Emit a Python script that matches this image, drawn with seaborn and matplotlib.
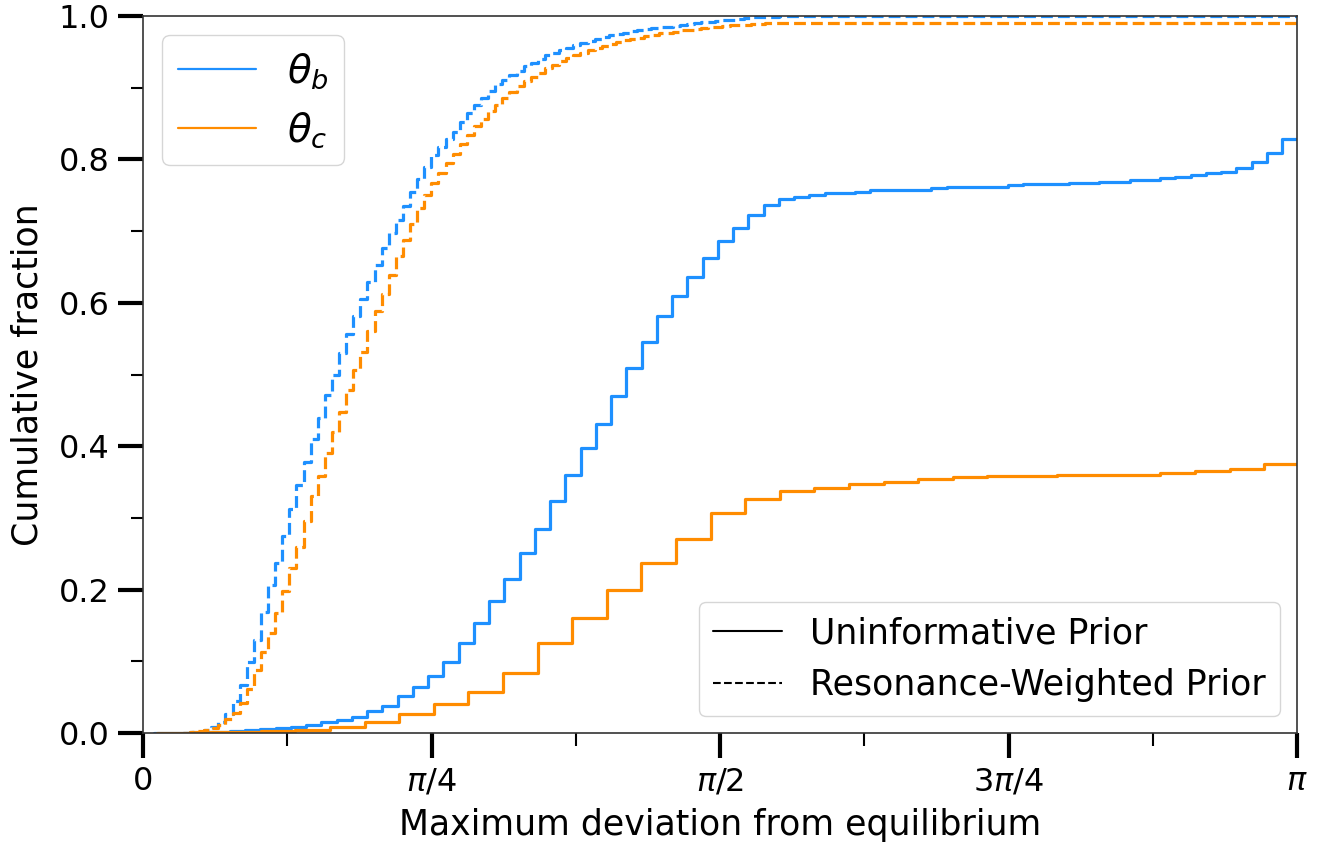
import matplotlib
matplotlib.use("Agg")
import matplotlib.pyplot as plt
import numpy as np
import seaborn as sns
from matplotlib.lines import Line2D
from matplotlib.ticker import FixedLocator, MultipleLocator, FormatStrFormatter

# cumulative fraction read per histogram bin (step curves)
# uninformative prior, theta_b: bins start 0.0286 rad, width 0.04152 rad
uninf_b_start, uninf_b_width = 0.0286, 0.04152
uninf_b = [0.0, 0.0, 0.0005, 0.001, 0.002, 0.003, 0.004, 0.005, 0.0065, 0.009,
           0.011, 0.016, 0.018, 0.022, 0.030, 0.038, 0.051, 0.064, 0.079, 0.099,
           0.125, 0.154, 0.184, 0.215, 0.251, 0.285, 0.323, 0.360, 0.397, 0.431,
           0.470, 0.509, 0.545, 0.582, 0.610, 0.636, 0.662, 0.686, 0.705, 0.723,
           0.737, 0.745, 0.748, 0.751, 0.753, 0.753, 0.755, 0.757, 0.757, 0.758,
           0.758, 0.7595, 0.761, 0.761, 0.762, 0.762, 0.764, 0.766, 0.766, 0.766,
           0.767, 0.767, 0.769, 0.769, 0.771, 0.771, 0.774, 0.775, 0.778, 0.781,
           0.783, 0.788, 0.797, 0.809, 0.828]

# uninformative prior, theta_c: bins start 0.0381 rad, width 0.0942 rad
uninf_c_start, uninf_c_width = 0.0381, 0.0942
uninf_c = [0.0, 0.001, 0.002, 0.003, 0.004, 0.009, 0.016, 0.027, 0.040, 0.057,
           0.083, 0.125, 0.160, 0.200, 0.237, 0.270, 0.307, 0.327, 0.337, 0.342,
           0.347, 0.350, 0.354, 0.357, 0.359, 0.359, 0.3605, 0.3605, 0.3605, 0.3626,
           0.365, 0.3686, 0.3745]

# resonance-weighted prior: bins start 0.1083 rad, width 0.01933 rad,
# last bin runs on to pi (curve is flat there)
res_start, res_width = 0.1083, 0.01933
res_b = [0.0005, 0.001, 0.002, 0.004, 0.009, 0.016, 0.027, 0.044, 0.067, 0.099,
         0.130, 0.169, 0.206, 0.237, 0.275, 0.313, 0.346, 0.378, 0.410, 0.440,
         0.471, 0.500, 0.530, 0.556, 0.581, 0.605, 0.629, 0.653, 0.677, 0.697,
         0.715, 0.735, 0.755, 0.772, 0.790, 0.806, 0.817, 0.828, 0.838, 0.852,
         0.865, 0.876, 0.886, 0.896, 0.905, 0.911, 0.918, 0.924, 0.930, 0.935,
         0.940, 0.945, 0.949, 0.953, 0.956, 0.959, 0.962, 0.965, 0.968, 0.971,
         0.973, 0.975, 0.977, 0.979, 0.980, 0.982, 0.983, 0.984, 0.985, 0.986,
         0.987, 0.989, 0.990, 0.991, 0.992, 0.993, 0.994, 0.995, 0.996, 0.997,
         0.998, 0.998, 0.999, 0.999, 1.0]
res_c = [0.0005, 0.001, 0.003, 0.004, 0.007, 0.011, 0.020, 0.028, 0.042, 0.062,
         0.088, 0.113, 0.139, 0.167, 0.198, 0.230, 0.260, 0.295, 0.330, 0.358,
         0.390, 0.420, 0.448, 0.478, 0.506, 0.532, 0.560, 0.588, 0.612, 0.639,
         0.665, 0.688, 0.710, 0.732, 0.750, 0.767, 0.781, 0.795, 0.808, 0.822,
         0.834, 0.846, 0.857, 0.867, 0.876, 0.886, 0.894, 0.902, 0.909, 0.915,
         0.921, 0.927, 0.932, 0.937, 0.941, 0.945, 0.949, 0.952, 0.955, 0.958,
         0.961, 0.964, 0.966, 0.968, 0.970, 0.972, 0.974, 0.976, 0.977, 0.978,
         0.980, 0.981, 0.982, 0.983, 0.984, 0.985, 0.986, 0.987, 0.988, 0.988,
         0.989, 0.989, 0.990]

xtick_vals = [0, np.pi / 4, np.pi / 2, 3 * np.pi / 4, np.pi]
xtick_labels = ['0', r'$\pi/4$', r'$\pi/2$', r'$3\pi/4$', r'$\pi$']

c_b = 'dodgerblue'
c_c = 'darkorange'


def uniform_edges(start, width, n):
    return start + width * np.arange(n + 1)


def open_edges(start, width, n):
    # last bin stretched to pi
    return np.append(start + width * np.arange(n), np.pi)


def step_cdf(ax, cum, edges, color, ls):
    # step histogram outline: value of bin k held from edge k to edge k+1
    y = np.append(cum, cum[-1])
    sns.lineplot(x=edges, y=y, drawstyle='steps-post', estimator=None, sort=False,
                 color=color, linestyle=ls, linewidth=2.3, ax=ax)


sns.set_theme(style='ticks')
plt.rcParams['font.family'] = ['DejaVu Sans']
plt.rcParams['text.color'] = 'black'
plt.rcParams['axes.labelcolor'] = 'black'
plt.rcParams['xtick.color'] = 'black'
plt.rcParams['ytick.color'] = 'black'

fig, ax = plt.subplots(figsize=(13.22, 8.43), dpi=100)
fig.subplots_adjust(left=0.1082, right=0.9811, bottom=0.1305, top=0.981)

step_cdf(ax, uninf_b, uniform_edges(uninf_b_start, uninf_b_width, len(uninf_b)), c_b, '-')
step_cdf(ax, uninf_c, uniform_edges(uninf_c_start, uninf_c_width, len(uninf_c)), c_c, '-')
step_cdf(ax, res_b, open_edges(res_start, res_width, len(res_b)), c_b, '--')
step_cdf(ax, res_c, open_edges(res_start, res_width, len(res_c)), c_c, '--')

ax.set_xlim(0, np.pi)
ax.set_ylim(0, 1.0)
ax.xaxis.set_major_locator(FixedLocator(xtick_vals))
ax.set_xticklabels(xtick_labels)
ax.xaxis.set_minor_locator(MultipleLocator(np.pi / 8))
ax.yaxis.set_major_locator(MultipleLocator(0.2))
ax.yaxis.set_minor_locator(MultipleLocator(0.1))
ax.yaxis.set_major_formatter(FormatStrFormatter('%.1f'))

ax.tick_params(which='major', length=18, width=3, labelsize=23, pad=6,
               color='black', labelcolor='black')
ax.tick_params(which='minor', length=9, width=1.5, color='black')
for sp in ax.spines.values():
    sp.set_linewidth(1.2)
    sp.set_color('#333333')

ax.set_xlabel('Maximum deviation from equilibrium', fontsize=25, color='black',
              labelpad=8)
ax.set_ylabel('Cumulative fraction', fontsize=25, color='black', labelpad=10)

theta_handles = [Line2D([], [], color=c_b, lw=1.6), Line2D([], [], color=c_c, lw=1.6)]
leg1 = ax.legend(theta_handles, [r'$\theta_b$', r'$\theta_c$'], loc='upper left',
                 fontsize=28)
ax.add_artist(leg1)
prior_handles = [Line2D([], [], color='black', lw=1.5),
                 Line2D([], [], color='black', lw=1.5, ls='--')]
ax.legend(prior_handles, ['Uninformative Prior', 'Resonance-Weighted Prior'],
          loc='lower right', fontsize=25)

fig.savefig('out.png', dpi=100)
